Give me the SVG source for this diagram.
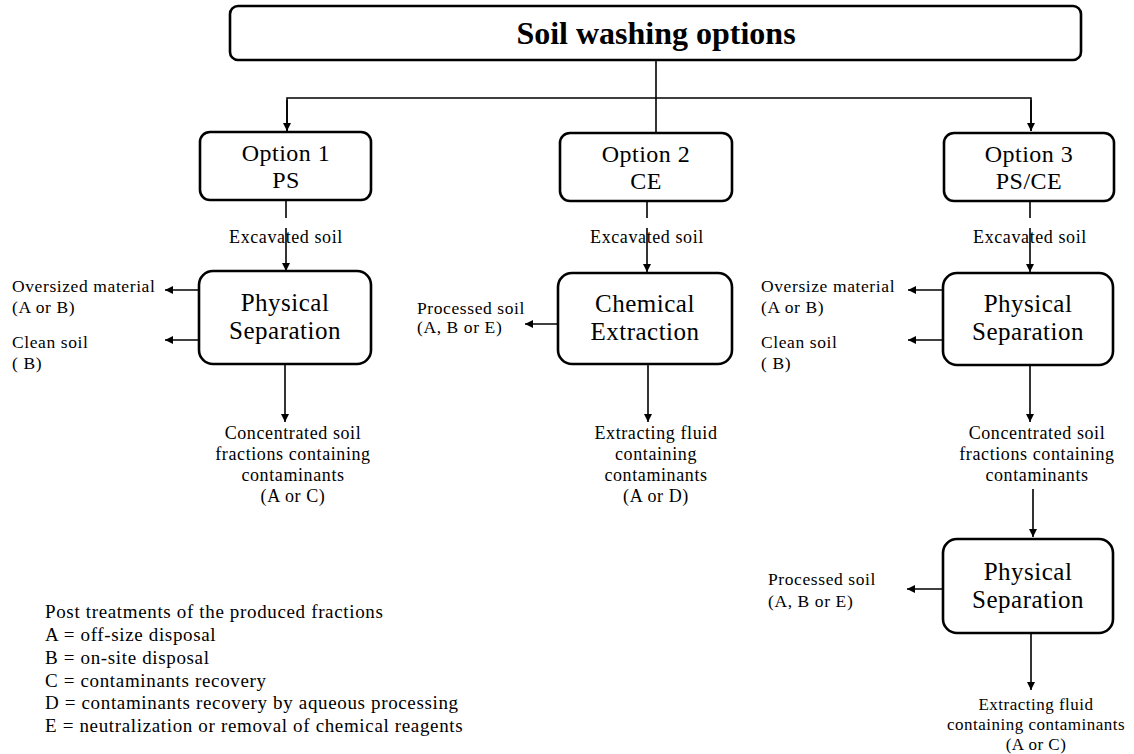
<svg xmlns="http://www.w3.org/2000/svg" width="1134" height="754" viewBox="0 0 1134 754">
<defs>
<marker id="ah" viewBox="0 0 10 10" refX="10" refY="5" markerWidth="8" markerHeight="8" markerUnits="userSpaceOnUse" orient="auto"><path d="M0,0 L10,5 L0,10 z" fill="#000"/></marker>
<style>
.box{fill:#fff;stroke:#000;stroke-width:2.6}
.ln{fill:none;stroke:#000;stroke-width:1.6}
.ar{fill:none;stroke:#000;stroke-width:1.6;marker-end:url(#ah)}
text{font-family:"Liberation Serif","Times New Roman",serif;fill:#000}
.title{font-size:32px;font-weight:bold;text-anchor:middle}
.opt{font-size:24px;letter-spacing:0.5px;text-anchor:middle}
.proc{font-size:25px;letter-spacing:0.5px;text-anchor:middle}
.lab{font-size:18px;letter-spacing:0.6px;text-anchor:middle}
.labs{font-size:17px;letter-spacing:0.5px;text-anchor:middle}
.side{font-size:17.5px;letter-spacing:0.6px}
.leg{font-size:19px;letter-spacing:0.65px}
</style>
</defs>
<rect width="1134" height="754" fill="#fff"/>
<g id="connectors">
<line class="ln" x1="656" y1="60" x2="656" y2="133"/>
<polyline class="ln" points="287,131 287,98 1031,98 1031,131"/>
<line class="ar" x1="287" y1="100" x2="287" y2="131"/>
<line class="ar" x1="1031" y1="100" x2="1031" y2="131"/>
<line class="ln" x1="286" y1="200" x2="286" y2="218"/>
<line class="ar" x1="286" y1="228" x2="286" y2="271"/>
<line class="ln" x1="647" y1="200" x2="647" y2="218"/>
<line class="ar" x1="647" y1="228" x2="647" y2="272"/>
<line class="ln" x1="1030" y1="200" x2="1030" y2="218"/>
<line class="ar" x1="1030" y1="228" x2="1030" y2="272"/>
<line class="ar" x1="199" y1="290" x2="165" y2="290"/>
<line class="ar" x1="199" y1="340" x2="165" y2="340"/>
<line class="ar" x1="558" y1="324" x2="525" y2="324"/>
<line class="ar" x1="943" y1="290" x2="908" y2="290"/>
<line class="ar" x1="943" y1="340" x2="908" y2="340"/>
<line class="ar" x1="285" y1="364" x2="285" y2="422"/>
<line class="ar" x1="648" y1="364" x2="648" y2="422"/>
<line class="ar" x1="1030" y1="365" x2="1030" y2="422"/>
<line class="ar" x1="1033" y1="489" x2="1033" y2="537"/>
<line class="ar" x1="943" y1="589" x2="907" y2="589"/>
<line class="ar" x1="1031" y1="633" x2="1031" y2="690"/>
</g>
<g id="n-title">
<rect class="box" x="230" y="6" width="851" height="54" rx="8"/>
<text class="title" x="656" y="44">Soil washing options</text>
</g>
<g id="n-opt1">
<rect class="box" x="200" y="132" width="171" height="68" rx="10"/>
<text class="opt" x="286" y="161">Option 1</text>
<text class="opt" x="286" y="188">PS</text>
</g>
<g id="n-opt2">
<rect class="box" x="560" y="133" width="172" height="68" rx="10"/>
<text class="opt" x="646" y="162">Option 2</text>
<text class="opt" x="646" y="189">CE</text>
</g>
<g id="n-opt3">
<rect class="box" x="944" y="133" width="170" height="68" rx="10"/>
<text class="opt" x="1029" y="162">Option 3</text>
<text class="opt" x="1029" y="189">PS/CE</text>
</g>
<g id="l-exc">
<text class="lab" x="286" y="243">Excavated soil</text>
<text class="lab" x="647" y="243">Excavated soil</text>
<text class="lab" x="1030" y="243">Excavated soil</text>
</g>
<g id="n-ps1">
<rect class="box" x="199" y="271" width="172" height="93" rx="14"/>
<text class="proc" x="285" y="311">Physical</text>
<text class="proc" x="285" y="339">Separation</text>
</g>
<g id="n-ce">
<rect class="box" x="558" y="273" width="174" height="91" rx="14"/>
<text class="proc" x="645" y="312">Chemical</text>
<text class="proc" x="645" y="340">Extraction</text>
</g>
<g id="n-ps3">
<rect class="box" x="943" y="273" width="170" height="92" rx="14"/>
<text class="proc" x="1028" y="312">Physical</text>
<text class="proc" x="1028" y="340">Separation</text>
</g>
<g id="n-ps4">
<rect class="box" x="943" y="539" width="170" height="94" rx="14"/>
<text class="proc" x="1028" y="580">Physical</text>
<text class="proc" x="1028" y="608">Separation</text>
</g>
<g id="l-side">
<text class="side" x="12" y="292">Oversized material</text>
<text class="side" x="12" y="313">(A or B)</text>
<text class="side" x="12" y="348">Clean soil</text>
<text class="side" x="12" y="369">( B)</text>
<text class="side" x="417" y="314">Processed soil</text>
<text class="side" x="417" y="333">(A, B or E)</text>
<text class="side" x="761" y="292">Oversize material</text>
<text class="side" x="761" y="313">(A or B)</text>
<text class="side" x="761" y="348">Clean soil</text>
<text class="side" x="761" y="369">( B)</text>
<text class="side" x="768" y="585">Processed soil</text>
<text class="side" x="768" y="607">(A, B or E)</text>
</g>
<g id="l-out">
<text class="lab" x="293" y="439">Concentrated soil</text>
<text class="lab" x="293" y="460">fractions containing</text>
<text class="lab" x="293" y="481">contaminants</text>
<text class="lab" x="293" y="502">(A or C)</text>
<text class="lab" x="656" y="439">Extracting fluid</text>
<text class="lab" x="656" y="460">containing</text>
<text class="lab" x="656" y="481">contaminants</text>
<text class="lab" x="656" y="502">(A or D)</text>
<text class="lab" x="1037" y="439">Concentrated soil</text>
<text class="lab" x="1037" y="460">fractions containing</text>
<text class="lab" x="1037" y="481">contaminants</text>
<text class="labs" x="1036" y="710">Extracting fluid</text>
<text class="labs" x="1036" y="730">containing contaminants</text>
<text class="labs" x="1036" y="750">(A or C)</text>
</g>
<g id="legend">
<text class="leg" x="45" y="618">Post treatments of the produced fractions</text>
<text class="leg" x="45" y="641">A = off-size disposal</text>
<text class="leg" x="45" y="664">B = on-site disposal</text>
<text class="leg" x="45" y="687">C = contaminants recovery</text>
<text class="leg" x="45" y="709">D = contaminants recovery by aqueous processing</text>
<text class="leg" x="45" y="732">E = neutralization or removal of chemical reagents</text>
</g>
</svg>
